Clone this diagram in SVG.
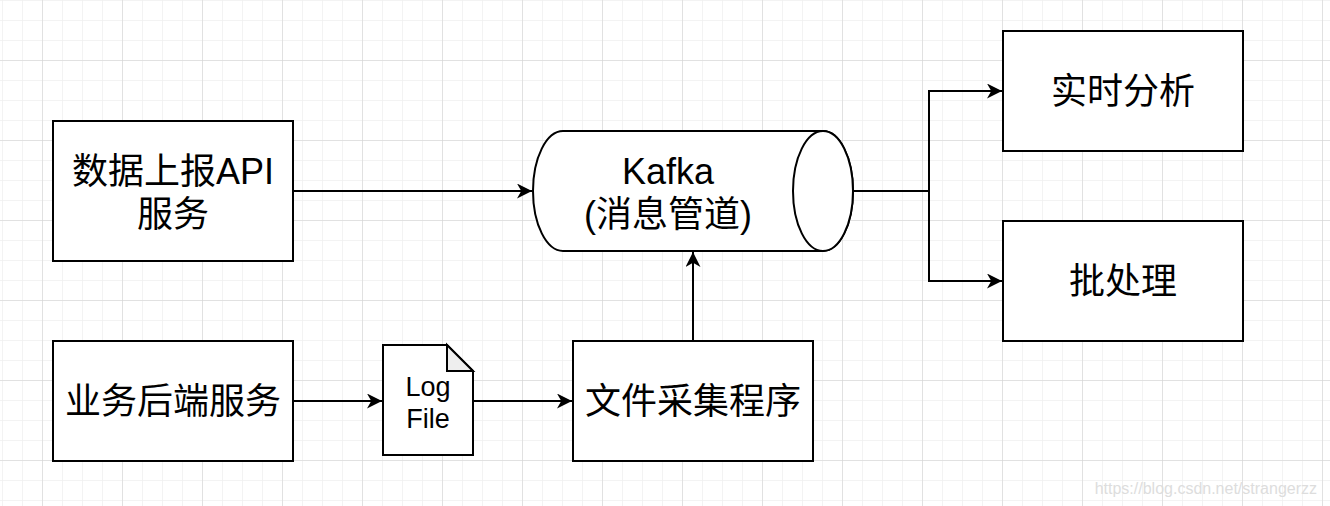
<svg xmlns="http://www.w3.org/2000/svg" width="1330" height="506" viewBox="0 0 1330 506">
<defs>
<pattern id="minor" x="2" y="0" width="20" height="20" patternUnits="userSpaceOnUse"><path d="M0 0H20M0 0V20" fill="none" stroke="#efefef" stroke-width="1.5"/></pattern>
<pattern id="major" x="42" y="60" width="80" height="80" patternUnits="userSpaceOnUse"><path d="M0 0H80M0 0V80" fill="none" stroke="#d0d0d0" stroke-width="1"/></pattern>
<marker id="ar" viewBox="0 0 14 14" refX="14" refY="7" markerWidth="15" markerHeight="15" markerUnits="userSpaceOnUse" orient="auto"><path d="M0 0L14 7L0 14L4 7Z" fill="#000"/></marker>
</defs>
<style>
.n{fill:#fff;stroke:#000;stroke-width:2}
.t{font-family:"Liberation Sans","Noto Sans CJK SC",sans-serif;font-size:36px;fill:#000;text-anchor:middle}
.s{font-size:27px}
.c{fill:none;stroke:#000;stroke-width:2;marker-end:url(#ar)}
</style>
<rect width="1330" height="506" fill="#fff"/>
<rect width="1330" height="506" fill="url(#minor)"/>
<rect width="1330" height="506" fill="url(#major)"/>
<g id="connectors">
<path class="c" d="M293 191H532"/>
<path class="c" d="M293 401H382"/>
<path class="c" d="M473 401H572"/>
<path class="c" d="M693 341V252"/>
<path class="c" d="M853 191H929V91H1002"/>
<path class="c" d="M929 191V281H1002"/>
</g>
<g id="api"><rect class="n" x="53" y="121" width="240" height="140"/><text class="t" x="173" y="184">数据上报API</text><text class="t" x="173" y="227">服务</text></g>
<g id="backend"><rect class="n" x="53" y="341" width="240" height="120"/><text class="t" x="173" y="414">业务后端服务</text></g>
<g id="logfile"><path class="n" d="M383 345H447L473 371V455H383Z"/><path d="M447 345V371H473Z" fill="#eee" stroke="#000" stroke-width="2"/><text class="t s" x="428" y="396">Log</text><text class="t s" x="428" y="428">File</text></g>
<g id="collector"><rect class="n" x="573" y="341" width="240" height="120"/><text class="t" x="693" y="414">文件采集程序</text></g>
<g id="kafka"><path class="n" d="M563 131H823A30 60 0 0 1 823 251H563A30 60 0 0 1 563 131Z"/><ellipse class="n" cx="823" cy="191" rx="30" ry="60"/><text class="t" x="668" y="184">Kafka</text><text class="t" x="668" y="227">(消息管道)</text></g>
<g id="realtime"><rect class="n" x="1003" y="31" width="240" height="120"/><text class="t" x="1123" y="104">实时分析</text></g>
<g id="batch"><rect class="n" x="1003" y="221" width="240" height="120"/><text class="t" x="1123" y="294">批处理</text></g>
<text x="1317" y="494" font-family="Liberation Sans,sans-serif" font-size="16" fill="#ddd" text-anchor="end">https://blog.csdn.net/strangerzz</text>
</svg>
